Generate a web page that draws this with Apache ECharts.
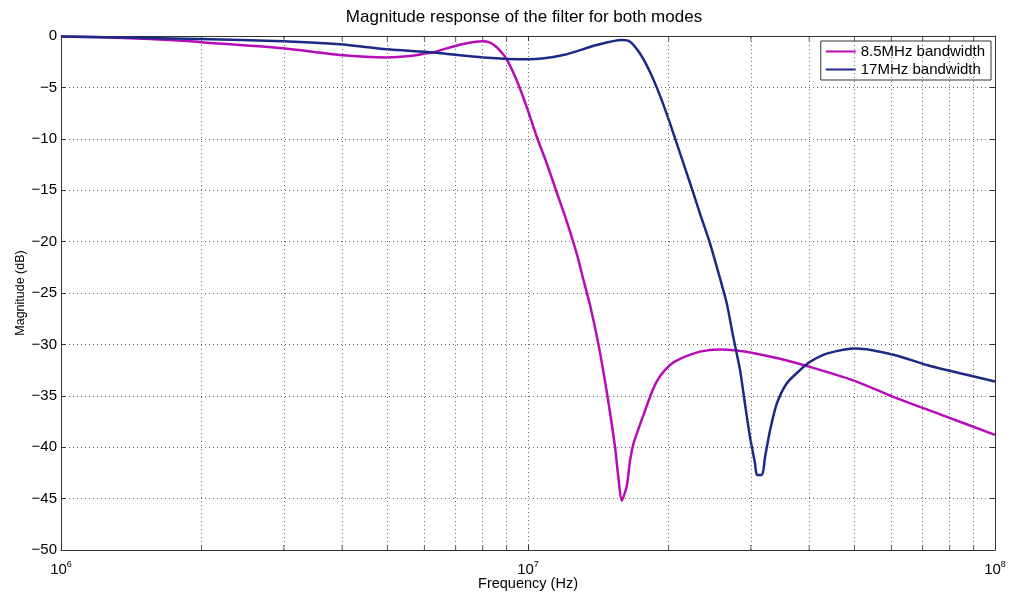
<!DOCTYPE html>
<html>
<head>
<meta charset="utf-8">
<script src="https://cdn.jsdelivr.net/npm/echarts@6/dist/echarts.min.js"></script>
<style>html,body{margin:0;padding:0;background:#fff;}#c{width:1010px;height:593px;}</style>
</head>
<body>
<div id="c"></div>
<script>
// ---- data (frequency in MHz, magnitude in dB) ----
const titleText = 'Magnitude response of the filter for both modes';
const seriesNames = ['8.5MHz bandwidth', '17MHz bandwidth'];
const magentaFreqMHz = [1.0, 1.316, 1.825, 1.985, 2.988, 3.958, 4.983, 5.588, 6.068, 6.26, 6.586, 7.268, 7.96, 8.292, 8.571, 8.854, 9.004, 9.458, 9.936, 10.44, 10.97, 11.52, 12.10, 12.72, 13.14, 13.58, 14.14, 14.62, 14.98, 15.36, 15.61, 15.87, 16.27, 16.54, 16.81, 17.66, 18.55, 19.17, 20.14, 21.16, 23.36, 25.78, 27.99, 30.88, 34.64, 39.52, 49.72, 60.56, 76.25, 100];
const magentaDb = [-0.05, -0.16, -0.46, -0.6, -1.2, -1.85, -2.08, -1.95, -1.69, -1.6, -1.3, -0.78, -0.52, -0.65, -1.1, -1.8, -2.25, -4.3, -6.9, -9.8, -12.4, -15.2, -18.0, -21.2, -23.7, -26.2, -29.9, -33.6, -36.6, -40.0, -42.9, -45.2, -43.8, -41.3, -39.7, -36.9, -34.3, -33.1, -32.0, -31.4, -30.7, -30.5, -30.6, -30.9, -31.4, -32.1, -33.5, -35.1, -36.8, -38.8];
const blueFreqMHz = [1.0, 1.338, 1.985, 2.988, 3.958, 4.983, 6.26, 8.023, 10.01, 11.90, 14.03, 15.87, 16.54, 17.37, 18.25, 19.17, 20.14, 21.16, 22.23, 23.36, 24.54, 25.56, 26.64, 27.52, 28.45, 29.15, 29.88, 30.63, 30.93, 31.70, 32.17, 32.97, 34.08, 35.80, 38.23, 40.17, 43.61, 50.56, 60.56, 71.43, 84.16, 100];
const blueDb = [-0.05, -0.14, -0.3, -0.52, -0.81, -1.3, -1.6, -2.08, -2.27, -1.85, -0.88, -0.39, -0.55, -1.7, -3.5, -5.8, -8.5, -11.4, -14.3, -17.3, -20.2, -23.0, -26.0, -29.3, -32.5, -35.8, -39.0, -41.6, -42.7, -42.7, -41.0, -38.4, -35.8, -33.8, -32.5, -31.7, -30.9, -30.4, -31.0, -32.0, -32.8, -33.6];
const minorFreqHz = [2e6, 3e6, 4e6, 5e6, 6e6, 7e6, 8e6, 9e6, 2e7, 3e7, 4e7, 5e7, 6e7, 7e7, 8e7, 9e7];
const xMin = 1e6, xMax = 1e8;
const yMin = -50, yMax = 0, yStep = 5;

const FONT = '"Liberation Sans", Arial, Helvetica, sans-serif';
const magentaColor = '#B80BB8';
const blueColor = '#1C2A85';
const gridColor = '#666';
const axisColor = '#333';

const toPairs = (fs, ds) => fs.map((f, i) => [f * 1e6, ds[i]]);

const chart = echarts.init(document.getElementById('c'), null, {renderer: 'canvas'});
const tickCommon = {show: true, inside: true, length: 5, lineStyle: {color: axisColor}};
const lineCommon = {show: true, onZero: false, lineStyle: {color: axisColor, width: 1}};
const dotted = {color: gridColor, width: 1, type: [1, 3]};

chart.setOption({
  animation: false,
  backgroundColor: '#fff',
  title: {
    text: titleText,
    left: 519, top: 4, textAlign: 'center',
    textStyle: {fontFamily: FONT, fontSize: 17, fontWeight: 'normal', color: '#000'}
  },
  legend: {
    data: seriesNames,
    right: 19, top: 41,
    orient: 'vertical',
    icon: 'rect', itemWidth: 30, itemHeight: 2, itemGap: 3,
    backgroundColor: '#fff', borderColor: '#333', borderWidth: 1,
    padding: [3, 6, 3, 5],
    textStyle: {fontFamily: FONT, fontSize: 15, color: '#000'}
  },
  grid: {left: 61, right: 15, top: 36, bottom: 43, containLabel: false, outerBoundsMode: 'none'},
  xAxis: [{
    type: 'log', logBase: 10, min: xMin, max: xMax,
    position: 'bottom',
    axisLine: lineCommon, axisTick: tickCommon,
    splitLine: {show: true, lineStyle: dotted},
    axisLabel: {
      margin: 10,
      formatter: v => '{b|10}{s|' + Math.round(Math.log10(v)) + '}',
      rich: {
        b: {fontFamily: FONT, fontSize: 15, color: '#000'},
        s: {fontFamily: FONT, fontSize: 9, color: '#000', padding: [0, 0, 11, 0]}
      }
    },
    name: 'Frequency (Hz)', nameLocation: 'middle', nameGap: 26, nameMoveOverlap: false,
    nameTextStyle: {fontFamily: FONT, fontSize: 14.5, color: '#000'}
  }, {
    type: 'log', logBase: 10, min: xMin, max: xMax,
    position: 'top',
    axisLine: lineCommon, axisTick: tickCommon,
    splitLine: {show: false}, axisLabel: {show: false}
  }],
  yAxis: [{
    type: 'value', min: yMin, max: yMax, interval: yStep,
    position: 'left',
    axisLine: lineCommon, axisTick: tickCommon,
    splitLine: {show: true, lineStyle: dotted},
    axisLabel: {
      margin: 4, fontFamily: FONT, fontSize: 15, color: '#000',
      formatter: v => String(v).replace('-', '\u2212')
    },
    name: 'Magnitude (dB)', nameLocation: 'middle', nameGap: 34, nameRotate: 90, nameMoveOverlap: false,
    nameTextStyle: {fontFamily: FONT, fontSize: 12.5, color: '#000'}
  }, {
    type: 'value', min: yMin, max: yMax, interval: yStep,
    position: 'right',
    axisLine: lineCommon, axisTick: tickCommon,
    splitLine: {show: false}, axisLabel: {show: false}
  }],
  series: [{
    name: 'minorGrid', type: 'line', data: [], z: 1, silent: true,
    markLine: {
      silent: true, symbol: ['none', 'none'], label: {show: false},
      lineStyle: dotted, animation: false,
      data: minorFreqHz.map(v => ({xAxis: v}))
    }
  }, {
    name: 'minorTicksBottom', type: 'scatter', z: 2, silent: true,
    symbol: 'rect', symbolSize: [1, 5], symbolOffset: [0, -2.5],
    itemStyle: {color: axisColor},
    data: minorFreqHz.map(v => [v, yMin])
  }, {
    name: 'minorTicksTop', type: 'scatter', z: 2, silent: true,
    symbol: 'rect', symbolSize: [1, 5], symbolOffset: [0, 2.5],
    itemStyle: {color: axisColor},
    data: minorFreqHz.map(v => [v, yMax])
  }, {
    name: seriesNames[0], type: 'line', z: 3,
    data: toPairs(magentaFreqMHz, magentaDb),
    showSymbol: false, smooth: 0.25,
    lineStyle: {color: magentaColor, width: 2.5}, itemStyle: {color: magentaColor}
  }, {
    name: seriesNames[1], type: 'line', z: 3,
    data: toPairs(blueFreqMHz, blueDb),
    showSymbol: false, smooth: 0.25,
    lineStyle: {color: blueColor, width: 2.5}, itemStyle: {color: blueColor}
  }]
});
</script>
</body>
</html>
